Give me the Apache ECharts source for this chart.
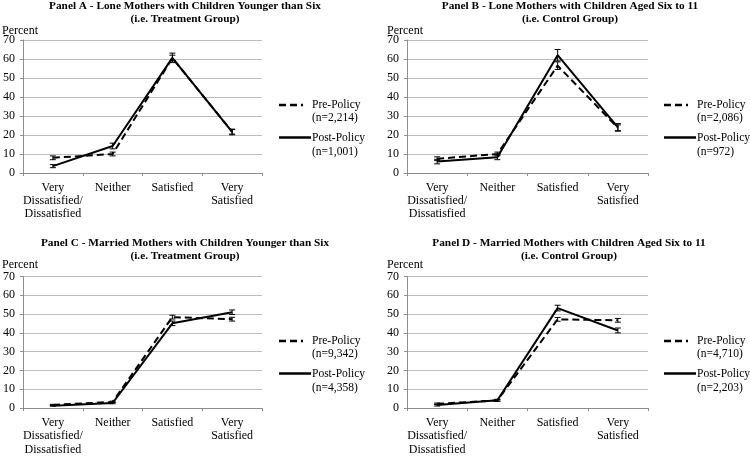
<!DOCTYPE html>
<html><head><meta charset="utf-8">
<script src="https://cdn.jsdelivr.net/npm/echarts@6/dist/echarts.min.js"></script>
<style>html,body{margin:0;padding:0;background:#fff}#c{width:750px;height:456px}</style>
</head><body><div id="c"></div>
<script>
var categories = ['Very\nDissatisfied/\nDissatisfied', 'Neither', 'Satisfied', 'Very\nSatisfied'];
var yTicks = [0, 10, 20, 30, 40, 50, 60, 70];
var panelTitles = [
  'Panel A - Lone Mothers with Children Younger than Six\n(i.e. Treatment Group)',
  'Panel B - Lone Mothers with Children Aged Six to 11\n(i.e. Control Group)',
  'Panel C - Married Mothers with Children Younger than Six\n(i.e. Treatment Group)',
  'Panel D - Married Mothers with Children Aged Six to 11\n(i.e. Control Group)'
];
var preLabels = ['Pre-Policy\n(n=2,214)', 'Pre-Policy\n(n=2,086)', 'Pre-Policy\n(n=9,342)', 'Pre-Policy\n(n=4,710)'];
var postLabels = ['Post-Policy\n(n=1,001)', 'Post-Policy\n(n=972)', 'Post-Policy\n(n=4,358)', 'Post-Policy\n(n=2,203)'];

var preA = [8.0, 10.0, 60.5, 21.7];
var postA = [3.6, 14.2, 60.6, 21.6];
var preB = [7.5, 10.0, 56.5, 23.8];
var postB = [6.0, 8.3, 62.0, 24.0];
var preC = [1.7, 3.3, 48.4, 47.3];
var postC = [1.3, 2.7, 45.1, 51.0];
var preD = [2.3, 4.1, 47.2, 46.7];
var postD = [1.6, 4.2, 53.2, 41.3];

var preErrA = [1.0, 1.0, 1.5, 1.2];
var postErrA = [0.8, 1.5, 2.5, 1.5];
var preErrB = [1.0, 1.0, 2.0, 1.5];
var postErrB = [1.2, 1.3, 3.0, 2.0];
var preErrC = [0.3, 0.4, 1.0, 1.0];
var postErrC = [0.3, 0.4, 1.2, 1.2];
var preErrD = [0.4, 0.4, 1.0, 1.0];
var postErrD = [0.5, 0.5, 1.5, 1.3];

var pres = [preA, preB, preC, preD];
var posts = [postA, postB, postC, postD];
var preErrs = [preErrA, preErrB, preErrC, preErrD];
var postErrs = [postErrA, postErrB, postErrC, postErrD];

var FONT = '"Liberation Serif", "Times New Roman", serif';
var grids = [
  {left: 21, top: 40, width: 241, height: 133},
  {left: 407, top: 40, width: 241, height: 133},
  {left: 21, top: 276.5, width: 241, height: 133.2},
  {left: 407, top: 276.5, width: 241, height: 133.2}
];
var titlePos = [
  {x: 185, y: -0.7, lh: 13.3}, {x: 570, y: -0.7, lh: 13.3},
  {x: 185, y: 236.5, lh: 12.8}, {x: 569, y: 236.5, lh: 12.8}
];
var legendX = [279, 664, 279, 664];
var legendY = [105, 105, 341, 341];
var percentY = [31.7, 31.7, 266, 266];
var percentX = [2, 387, 2, 387];

function errItem(params, api) {
  var x = api.value(0), lo = api.value(1), hi = api.value(2);
  var p1 = api.coord([x, lo]), p2 = api.coord([x, hi]);
  var st = {stroke: '#000', lineWidth: 1};
  return {type: 'group', children: [
    {type: 'line', shape: {x1: p1[0], y1: p1[1], x2: p2[0], y2: p2[1]}, style: st},
    {type: 'line', shape: {x1: p1[0]-3, y1: p1[1], x2: p1[0]+3, y2: p1[1]}, style: st},
    {type: 'line', shape: {x1: p2[0]-3, y1: p2[1], x2: p2[0]+3, y2: p2[1]}, style: st}
  ]};
}

var option = {
  animation: false,
  backgroundColor: '#fff',
  title: [], grid: [], xAxis: [], yAxis: [], series: [], graphic: []
};

for (var i = 0; i < 4; i++) {
  option.title.push({
    text: panelTitles[i], left: titlePos[i].x, top: titlePos[i].y, textAlign: 'center', padding: 0,
    textStyle: {fontFamily: FONT, fontWeight: 'bold', fontSize: 11.3, lineHeight: titlePos[i].lh, color: '#000'}
  });
  option.grid.push(grids[i]);
  option.xAxis.push({
    type: 'category', gridIndex: i, data: categories, boundaryGap: true,
    axisLine: {lineStyle: {color: '#8c8c8c', width: 1}},
    axisTick: {show: true, length: 3, lineStyle: {color: '#8c8c8c'}},
    axisLabel: {fontFamily: FONT, fontSize: 12, color: '#000', lineHeight: 13.3, margin: 8, interval: 0}
  });
  option.yAxis.push({
    type: 'value', gridIndex: i, min: yTicks[0], max: yTicks[yTicks.length-1], interval: 10,
    axisLine: {show: true, lineStyle: {color: '#8c8c8c', width: 1}},
    axisTick: {show: true, length: 3, lineStyle: {color: '#8c8c8c'}},
    splitLine: {lineStyle: {color: '#bdbdbd', width: 1}},
    axisLabel: {fontFamily: FONT, fontSize: 12, color: '#000', margin: 8}
  });
  option.series.push({
    type: 'line', xAxisIndex: i, yAxisIndex: i, data: pres[i], symbol: 'none',
    lineStyle: {color: '#000', width: 2, type: [7, 4]}, z: 3
  });
  option.series.push({
    type: 'line', xAxisIndex: i, yAxisIndex: i, data: posts[i], symbol: 'none',
    lineStyle: {color: '#000', width: 2, type: 'solid'}, z: 4
  });
  var preE = pres[i].map(function (v, k) { return [k, v - preErrs[i][k], v + preErrs[i][k]]; });
  var postE = posts[i].map(function (v, k) { return [k, v - postErrs[i][k], v + postErrs[i][k]]; });
  option.series.push({type: 'custom', xAxisIndex: i, yAxisIndex: i, data: preE, renderItem: errItem, z: 5});
  option.series.push({type: 'custom', xAxisIndex: i, yAxisIndex: i, data: postE, renderItem: errItem, z: 5});

  option.graphic.push({type: 'text', left: percentX[i], top: percentY[i] - 7,
    style: {text: 'Percent', font: '12px ' + FONT, fill: '#000'}});
  var lx = legendX[i], ly = legendY[i];
  option.graphic.push({type: 'line', shape: {x1: lx, y1: ly, x2: lx + 24, y2: ly},
    style: {stroke: '#000', lineWidth: 2.5, lineDash: [7, 4]}});
  option.graphic.push({type: 'text', left: lx + 33, top: ly - 6.8,
    style: {text: preLabels[i], font: '11.5px ' + FONT, fill: '#000', lineHeight: 13.5}});
  option.graphic.push({type: 'line', shape: {x1: lx, y1: ly + 32.5, x2: lx + 32, y2: ly + 32.5},
    style: {stroke: '#000', lineWidth: 2.5}});
  option.graphic.push({type: 'text', left: lx + 33, top: ly + 25.7,
    style: {text: postLabels[i], font: '11.5px ' + FONT, fill: '#000', lineHeight: 14}});
}

var chart = echarts.init(document.getElementById('c'), null, {renderer: 'canvas'});
chart.setOption(option);
</script>
</body></html>
